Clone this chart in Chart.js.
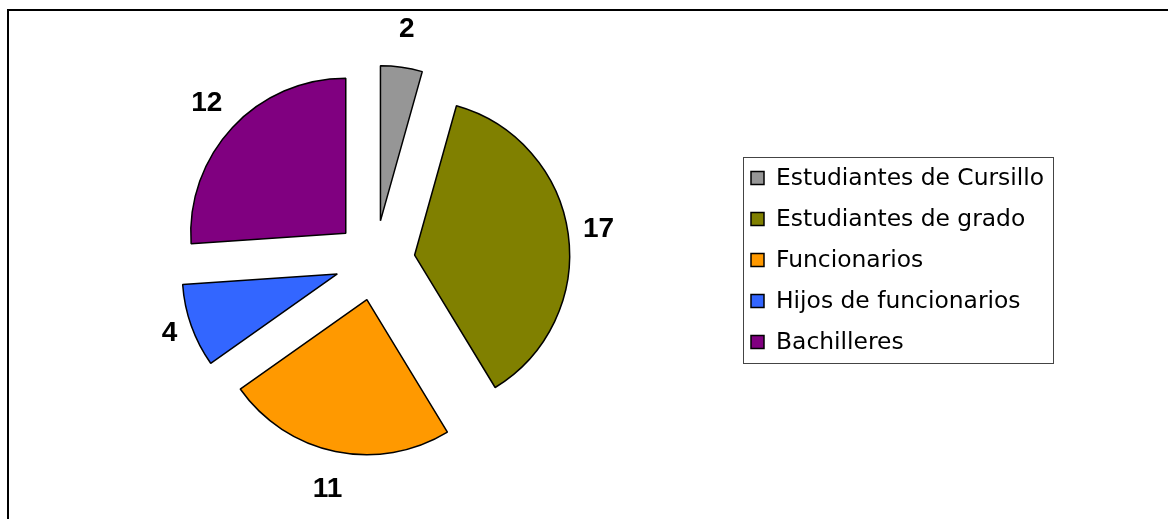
<!DOCTYPE html>
<html>
<head>
<meta charset="utf-8">
<script src="https://cdn.jsdelivr.net/npm/chart.js@4/dist/chart.umd.min.js"></script>
<style>
  html, body { margin: 0; padding: 0; background: #fff; }
  #wrap { position: relative; width: 1168px; height: 519px; }
  #frame { position: absolute; left: 7px; top: 9px; right: 0; bottom: 0; border-top: 2px solid #000; border-left: 2px solid #000; pointer-events: none; }
  canvas { position: absolute; left: 0; top: 0; }
</style>
</head>
<body>
<div id="wrap">
  <canvas id="c" width="1168" height="519"></canvas>
  <div id="frame"></div>
</div>
<script>
const categories = ["Estudiantes de Cursillo", "Estudiantes de grado", "Funcionarios", "Hijos de funcionarios", "Bachilleres"];
const values = [2, 17, 11, 4, 12];
const colors = ["#969696", "#808000", "#FF9900", "#3366FF", "#800080"];

const EXPLODE = 40;
const LABEL_GAP = 18;
const LABEL_HALF_H = 20;

const explodePlugin = {
  id: 'explode',
  beforeDatasetDraw(chart, args) {
    const ctx = chart.ctx;
    args.meta.data.forEach(arc => {
      const mid = (arc.startAngle + arc.endAngle) / 2;
      ctx.save();
      ctx.translate(Math.cos(mid) * EXPLODE, Math.sin(mid) * EXPLODE);
      arc.draw(ctx, chart.chartArea);
      ctx.restore();
    });
    return false;
  },
  afterDatasetsDraw(chart) {
    const ctx = chart.ctx;
    const meta = chart.getDatasetMeta(0);
    const ds = chart.data.datasets[0];
    ctx.save();
    ctx.font = 'bold 28px "Liberation Sans", Arial, sans-serif';
    ctx.fillStyle = '#000';
    ctx.textAlign = 'center';
    ctx.textBaseline = 'middle';
    meta.data.forEach((arc, i) => {
      const txt = String(ds.data[i]);
      const mid = (arc.startAngle + arc.endAngle) / 2;
      const ux = Math.cos(mid), uy = Math.sin(mid);
      const halfW = ctx.measureText(txt).width / 2 - 3;
      const ext = Math.min(Math.abs(ux) > 1e-6 ? halfW / Math.abs(ux) : 1e9,
                           Math.abs(uy) > 1e-6 ? LABEL_HALF_H / Math.abs(uy) : 1e9);
      const d = EXPLODE + arc.outerRadius + LABEL_GAP + ext;
      ctx.fillText(txt, arc.x + ux * d, arc.y + uy * d);
    });
    ctx.restore();
  },
  afterDraw(chart) {
    const ctx = chart.ctx;
    const labels = chart.data.labels;
    const bg = chart.data.datasets[0].backgroundColor;
    const box = { x: 743, y: 157, w: 310, h: 206 };
    ctx.save();
    ctx.strokeStyle = '#444';
    ctx.lineWidth = 1;
    ctx.strokeRect(box.x + 0.5, box.y + 0.5, box.w, box.h);
    ctx.font = '23.4px "DejaVu Sans", sans-serif';
    ctx.textBaseline = 'middle';
    ctx.textAlign = 'left';
    labels.forEach((lab, i) => {
      const cy = 178 + i * 41;
      ctx.fillStyle = bg[i];
      ctx.fillRect(751, cy - 6.5, 13, 13);
      ctx.strokeStyle = '#000';
      ctx.lineWidth = 1.5;
      ctx.strokeRect(751, cy - 6.5, 13, 13);
      ctx.fillStyle = '#000';
      ctx.fillText(lab, 776, cy + 1);
    });
    ctx.restore();
  }
};

new Chart(document.getElementById('c'), {
  type: 'pie',
  data: {
    labels: categories,
    datasets: [{
      data: values,
      backgroundColor: colors,
      borderColor: '#000',
      borderWidth: 1.5
    }]
  },
  options: {
    responsive: false,
    animation: false,
    radius: 155,
    layout: { padding: { left: 0, right: 418, top: 2, bottom: 0 } },
    plugins: {
      legend: { display: false },
      tooltip: { enabled: false }
    }
  },
  plugins: [explodePlugin]
});
</script>
</body>
</html>
